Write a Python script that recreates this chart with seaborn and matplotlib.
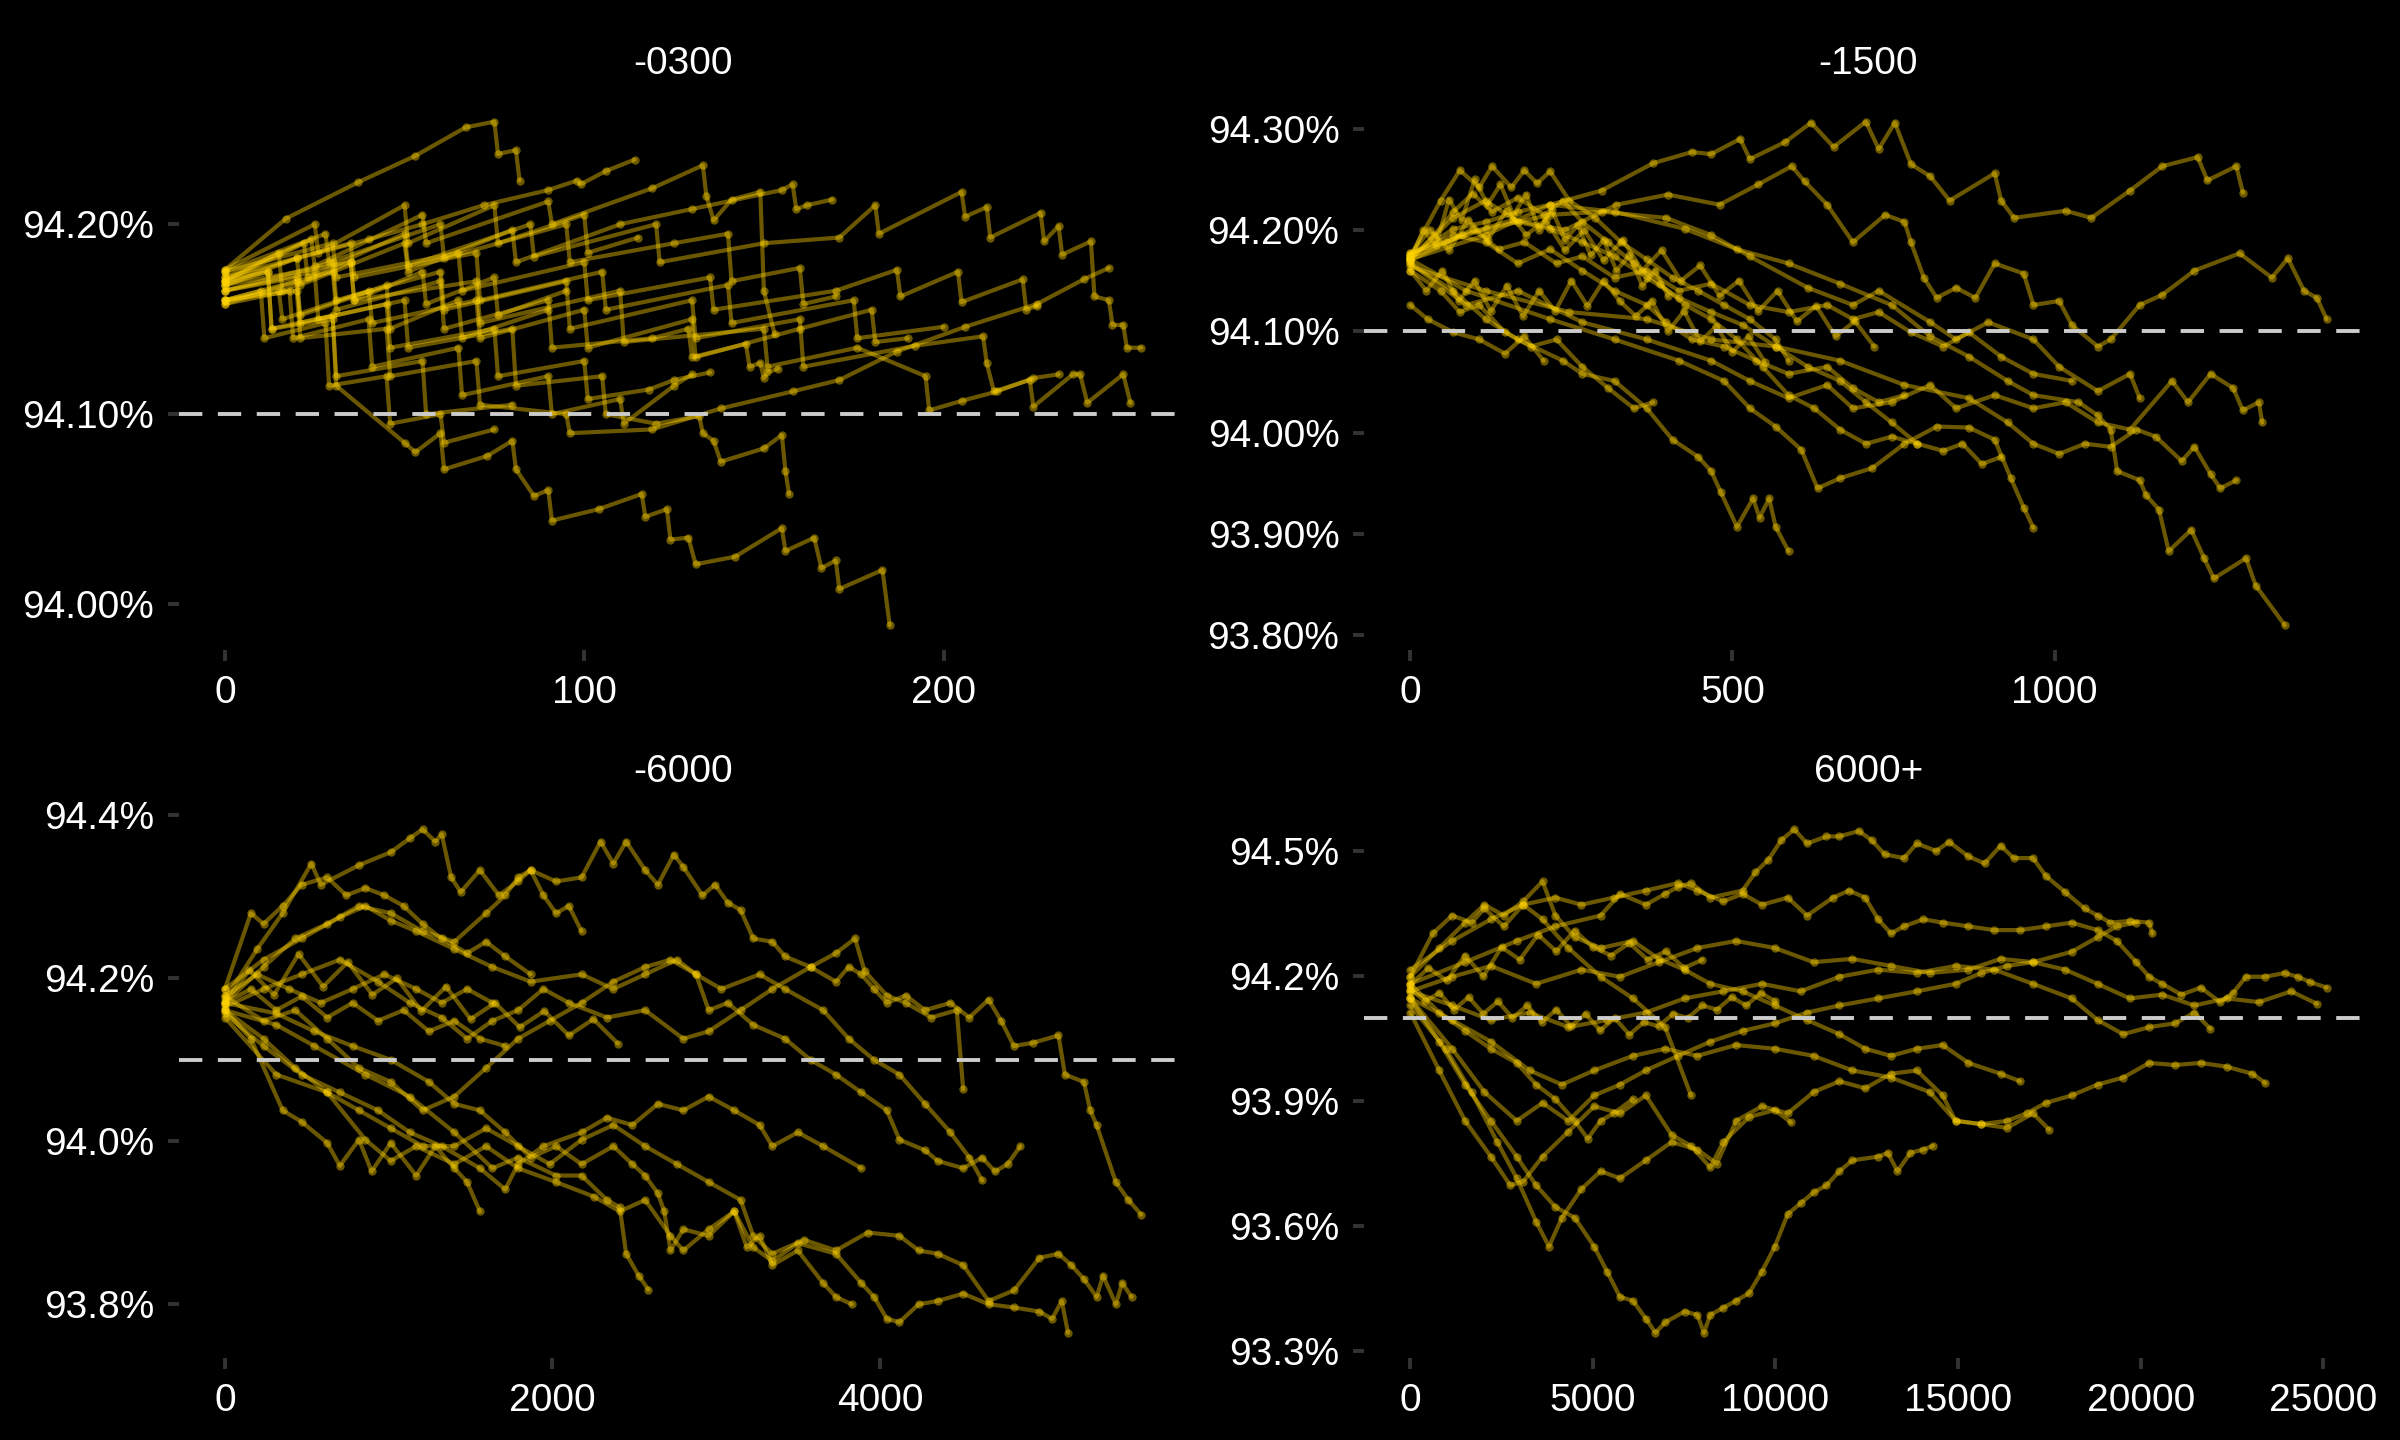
import matplotlib
matplotlib.use("Agg")
import matplotlib.pyplot as plt
import matplotlib.ticker as mticker
import seaborn as sns
import pandas as pd

# facet labels, in the order they are drawn (left to right, top to bottom)
panels = ["-0300", "-1500", "-6000", "6000+"]

# reference level drawn as the dashed line in every facet
target = 94.10

# ---- "-0300" runs (x = step, y = percent) ----
x_0300 = [
    [0, 17, 37, 53, 67, 75, 76, 81, 82],
    [0, 20, 40, 55, 72, 90, 98, 99, 106, 114],
    [0, 22, 23, 50, 51, 85, 86, 120, 121, 150, 171, 181, 182, 205, 206, 212, 213, 227, 228, 232, 233, 241, 242, 246, 247, 250, 251, 255],
    [0, 24, 25, 55, 56, 90, 91, 119, 133, 134, 136, 141, 149, 150, 153],
    [0, 20, 21, 50, 51, 80, 81, 110, 130, 155, 158, 159, 162, 169],
    [0, 20, 21, 45, 46, 70, 71, 95, 96, 119, 138, 158, 171, 187, 206, 226, 239, 246],
    [0, 30, 31, 60, 61, 95, 96, 130, 131, 160, 161, 192, 211, 212, 214, 224, 225, 236, 238, 240, 250, 252],
    [0, 35, 36, 70, 71, 110, 111, 150, 151, 176, 195, 196, 205, 215, 225, 232],
    [0, 12, 13, 30, 31, 50, 53, 60, 61, 73, 80, 81, 86, 90, 91, 104, 116, 117, 123, 124, 129, 131, 142, 155, 156, 164, 166, 170, 171, 183, 185],
    [0, 25, 26, 50, 51, 80, 81, 105, 106, 120, 132, 133, 136, 138, 150, 155, 156, 157],
    [0, 30, 31, 60, 61, 90, 91, 119, 129, 130, 145, 146, 149, 150, 151, 154],
    [0, 30, 31, 65, 66, 100, 101, 135, 136, 170, 187, 188, 204, 205, 222, 223, 226],
    [0, 20, 21, 45, 46, 75, 76, 100, 101, 118, 125, 135],
    [0, 18, 19, 40, 41, 65, 66, 90, 91, 110, 111, 125, 130],
    [0, 28, 29, 60, 61, 95, 96, 125, 140, 141, 160, 161, 170],
    [0, 15, 16, 40, 41, 70, 71, 100, 101, 130, 131, 160, 180, 181, 190],
    [0, 35, 36, 70, 71, 105, 106, 140, 141, 175, 176, 200],
    [0, 12, 13, 30, 31, 55, 56, 80],
    [0, 10, 11, 28, 29, 45, 46, 60, 61, 75],
    [0, 25, 26, 50, 51, 75, 76, 100, 101, 115],
    [0, 15, 16, 35, 36, 55, 56, 75, 76, 95],
    [0, 20, 21, 45, 46, 65, 66, 90],
]
y_0300 = [
    [94.176, 94.203, 94.222, 94.236, 94.251, 94.254, 94.237, 94.239, 94.223],
    [94.168, 94.182, 94.192, 94.200, 94.210, 94.218, 94.223, 94.221, 94.228, 94.234],
    [94.170, 94.190, 94.172, 94.195, 94.178, 94.200, 94.183, 94.200, 94.180, 94.190, 94.193, 94.210, 94.195, 94.217, 94.204, 94.209, 94.193, 94.206, 94.191, 94.199, 94.184, 94.191, 94.162, 94.160, 94.147, 94.147, 94.135, 94.135],
    [94.172, 94.192, 94.178, 94.205, 94.190, 94.212, 94.200, 94.219, 94.231, 94.215, 94.202, 94.213, 94.217, 94.165, 94.142],
    [94.170, 94.182, 94.168, 94.190, 94.175, 94.197, 94.180, 94.200, 94.208, 94.218, 94.221, 94.208, 94.210, 94.213],
    [94.160, 94.165, 94.140, 94.145, 94.120, 94.128, 94.105, 94.100, 94.090, 94.092, 94.103, 94.112, 94.118, 94.133, 94.146, 94.158, 94.171, 94.177],
    [94.165, 94.180, 94.160, 94.175, 94.155, 94.170, 94.145, 94.160, 94.140, 94.150, 94.125, 94.136, 94.141, 94.127, 94.112, 94.118, 94.104, 94.121, 94.121, 94.106, 94.121, 94.106],
    [94.168, 94.180, 94.160, 94.170, 94.148, 94.165, 94.138, 94.145, 94.125, 94.135, 94.120, 94.102, 94.107, 94.112, 94.119, 94.121],
    [94.170, 94.175, 94.145, 94.150, 94.115, 94.085, 94.080, 94.090, 94.071, 94.078, 94.086, 94.071, 94.057, 94.060, 94.044, 94.050, 94.058, 94.046, 94.050, 94.034, 94.035, 94.021, 94.025, 94.040, 94.028, 94.035, 94.019, 94.023, 94.008, 94.018, 93.989],
    [94.165, 94.175, 94.150, 94.160, 94.135, 94.145, 94.115, 94.120, 94.100, 94.095, 94.099, 94.090, 94.086, 94.075, 94.082, 94.089, 94.070, 94.058],
    [94.160, 94.175, 94.155, 94.170, 94.145, 94.160, 94.135, 94.140, 94.145, 94.130, 94.137, 94.125, 94.127, 94.119, 94.122, 94.124],
    [94.175, 94.190, 94.172, 94.185, 94.165, 94.180, 94.160, 94.172, 94.155, 94.165, 94.176, 94.162, 94.175, 94.159, 94.171, 94.155, 94.157],
    [94.165, 94.172, 94.148, 94.158, 94.135, 94.145, 94.120, 94.128, 94.108, 94.113, 94.118, 94.122],
    [94.158, 94.165, 94.140, 94.150, 94.125, 94.135, 94.110, 94.120, 94.100, 94.108, 94.095, 94.115, 94.121],
    [94.175, 94.195, 94.180, 94.200, 94.182, 94.200, 94.180, 94.190, 94.195, 94.170, 94.177, 94.158, 94.162],
    [94.160, 94.165, 94.150, 94.165, 94.148, 94.160, 94.140, 94.155, 94.135, 94.150, 94.130, 94.145, 94.155, 94.138, 94.140],
    [94.172, 94.190, 94.172, 94.185, 94.160, 94.175, 94.155, 94.168, 94.148, 94.160, 94.140, 94.146],
    [94.168, 94.175, 94.145, 94.152, 94.120, 94.128, 94.100, 94.105],
    [94.160, 94.165, 94.140, 94.148, 94.115, 94.120, 94.095, 94.100, 94.085, 94.092],
    [94.176, 94.200, 94.185, 94.210, 94.190, 94.210, 94.190, 94.205, 94.185, 94.193],
    [94.170, 94.185, 94.165, 94.180, 94.160, 94.175, 94.158, 94.172, 94.152, 94.165],
    [94.158, 94.170, 94.152, 94.168, 94.145, 94.160, 94.140, 94.155],
]

# ---- "-1500" runs ----
x_1500 = [
    [0, 67, 117, 167, 217, 297, 377, 437, 467, 512, 527, 582, 622, 657, 707, 727, 752, 777, 807, 837, 907, 917, 937, 1017, 1057, 1117, 1167, 1222, 1237, 1282, 1292],
    [0, 80, 160, 240, 320, 400, 480, 540, 592, 612, 647, 687, 737, 767, 777, 797, 817, 847, 877, 907, 952, 967, 1007, 1027, 1067, 1087, 1132, 1167, 1217, 1287, 1337, 1362, 1387, 1407, 1422],
    [0, 117, 217, 317, 427, 507, 587, 667, 747, 807, 867, 927, 967, 1037, 1067, 1087, 1097, 1132, 1142, 1162, 1177, 1212, 1232, 1247, 1297, 1312, 1357],
    [0, 87, 167, 267, 367, 467, 527, 587, 647, 687, 747, 807, 847, 907, 967, 1017, 1067, 1117, 1182, 1207, 1242, 1277, 1292, 1317, 1322],
    [0, 117, 247, 367, 467, 567, 667, 767, 867, 927, 967, 1007, 1047, 1087, 1127, 1157, 1197, 1217, 1242, 1257, 1282],
    [0, 87, 217, 317, 417, 487, 527, 567, 607, 632, 667, 717, 767, 817, 867, 907, 932, 952, 967],
    [0, 67, 117, 167, 237, 267, 317, 367, 407, 447, 467, 482, 507, 532, 542, 557, 567, 587],
    [0, 117, 217, 297, 397, 467, 527, 617, 687, 727, 807, 847, 897, 967, 1007, 1067, 1117, 1132],
    [0, 47, 77, 107, 127, 157, 177, 197, 217, 247, 287, 327, 367, 407, 447, 487, 527, 567, 587],
    [0, 37, 67, 97, 127, 167, 207, 237, 267, 307, 347, 387, 427, 467, 507, 547, 587, 627, 667, 707, 747, 787],
    [0, 47, 77, 107, 147, 187, 227, 267, 307, 347, 377],
    [0, 57, 97, 137, 177, 227, 267, 317, 367, 417, 467, 527, 587, 647, 687, 727, 777, 827, 867, 917, 967, 1027],
    [0, 27, 67, 107, 147, 177, 207],
    [0, 67, 117, 167, 217, 267, 317, 367, 417, 467, 517, 567, 617, 667, 707, 747, 787, 827, 857, 887, 917],
    [0, 67, 117, 167, 217, 267, 317, 367, 397, 437, 487, 537, 587, 647, 687, 727, 767],
    [0, 20, 40, 60, 80, 100, 120, 140, 160, 180, 200, 220, 240, 260, 280, 300, 320, 340, 360, 380, 400],
    [0, 25, 50, 75, 100, 125, 150, 175, 200, 225, 250, 275, 300, 325, 350, 375, 400, 425, 450, 475, 500, 525, 550],
    [0, 30, 60, 90, 120, 150, 180, 210, 240, 270, 300, 330, 360, 390, 420, 450, 480, 510, 540, 570, 600, 630, 660, 690, 720],
]
y_1500 = [
    [94.174, 94.201, 94.208, 94.218, 94.225, 94.239, 94.266, 94.277, 94.275, 94.290, 94.270, 94.287, 94.306, 94.282, 94.307, 94.280, 94.306, 94.265, 94.253, 94.229, 94.256, 94.229, 94.212, 94.219, 94.212, 94.239, 94.263, 94.272, 94.249, 94.263, 94.237],
    [94.170, 94.195, 94.210, 94.200, 94.225, 94.235, 94.225, 94.245, 94.263, 94.248, 94.225, 94.188, 94.215, 94.208, 94.188, 94.153, 94.133, 94.143, 94.133, 94.167, 94.157, 94.126, 94.130, 94.106, 94.085, 94.092, 94.126, 94.136, 94.160, 94.177, 94.153, 94.172, 94.140, 94.133, 94.112],
    [94.171, 94.195, 94.225, 94.218, 94.201, 94.181, 94.167, 94.147, 94.126, 94.095, 94.075, 94.051, 94.037, 94.030, 94.017, 94.003, 93.962, 93.953, 93.938, 93.924, 93.883, 93.904, 93.876, 93.856, 93.876, 93.849, 93.810],
    [94.167, 94.126, 94.140, 94.109, 94.092, 94.071, 94.051, 94.034, 94.047, 94.024, 94.030, 94.047, 94.024, 94.037, 94.024, 94.030, 94.010, 94.003, 94.051, 94.030, 94.058, 94.044, 94.022, 94.030, 94.010],
    [94.164, 94.140, 94.119, 94.112, 94.092, 94.085, 94.071, 94.047, 94.034, 94.010, 93.989, 93.979, 93.989, 93.986, 94.003, 93.996, 93.972, 93.986, 93.959, 93.945, 93.953],
    [94.171, 94.140, 94.112, 94.092, 94.071, 94.051, 94.024, 94.006, 93.983, 93.945, 93.955, 93.965, 93.989, 94.006, 94.005, 93.993, 93.955, 93.926, 93.906],
    [94.167, 94.140, 94.112, 94.092, 94.071, 94.058, 94.051, 94.024, 93.993, 93.976, 93.962, 93.941, 93.907, 93.935, 93.916, 93.935, 93.907, 93.883],
    [94.177, 94.201, 94.215, 94.218, 94.212, 94.195, 94.174, 94.143, 94.126, 94.140, 94.109, 94.092, 94.109, 94.092, 94.065, 94.041, 94.058, 94.034],
    [94.174, 94.229, 94.259, 94.242, 94.263, 94.242, 94.259, 94.246, 94.258, 94.229, 94.212, 94.188, 94.171, 94.153, 94.140, 94.126, 94.112, 94.092, 94.071],
    [94.171, 94.195, 94.218, 94.236, 94.218, 94.232, 94.215, 94.229, 94.208, 94.188, 94.167, 94.147, 94.126, 94.112, 94.092, 94.065, 94.037, 94.024, 94.003, 93.989, 93.996, 93.989],
    [94.160, 94.140, 94.119, 94.126, 94.099, 94.085, 94.092, 94.065, 94.044, 94.024, 94.030],
    [94.174, 94.188, 94.201, 94.181, 94.188, 94.167, 94.174, 94.153, 94.160, 94.140, 94.147, 94.126, 94.119, 94.126, 94.112, 94.119, 94.099, 94.085, 94.099, 94.075, 94.058, 94.051],
    [94.126, 94.112, 94.099, 94.092, 94.078, 94.095, 94.071],
    [94.171, 94.212, 94.229, 94.208, 94.201, 94.188, 94.174, 94.153, 94.133, 94.119, 94.106, 94.085, 94.065, 94.051, 94.030, 94.010, 93.989, 93.982, 93.989, 93.969, 93.976],
    [94.177, 94.195, 94.188, 94.167, 94.181, 94.160, 94.140, 94.126, 94.109, 94.092, 94.085, 94.071, 94.058, 94.065, 94.044, 94.030, 94.037],
    [94.170, 94.200, 94.185, 94.230, 94.210, 94.250, 94.225, 94.245, 94.215, 94.235, 94.200, 94.220, 94.190, 94.205, 94.175, 94.190, 94.160, 94.175, 94.145, 94.160, 94.135],
    [94.160, 94.140, 94.160, 94.130, 94.150, 94.120, 94.145, 94.115, 94.140, 94.120, 94.150, 94.125, 94.150, 94.130, 94.115, 94.130, 94.100, 94.120, 94.090, 94.105, 94.080, 94.095, 94.070],
    [94.175, 94.200, 94.180, 94.210, 94.190, 94.220, 94.195, 94.210, 94.180, 94.200, 94.170, 94.190, 94.160, 94.180, 94.150, 94.165, 94.135, 94.150, 94.120, 94.140, 94.110, 94.125, 94.095, 94.110, 94.085],
]

# ---- "-6000" runs ----
x_6000 = [
    [0, 197, 353, 528, 586, 819, 1013, 1129, 1207, 1285, 1324, 1382, 1440, 1557, 1673, 1790, 1867, 1945, 2022, 2100, 2178],
    [0, 236, 430, 625, 819, 1013, 1207, 1401, 1595, 1712, 1790, 1867, 2022, 2178, 2294, 2372, 2450, 2566, 2644, 2741, 2799, 2916, 2993, 3071, 3149, 3226, 3343, 3420, 3576, 3731, 3809, 3886, 3964, 4042, 4158, 4275, 4430, 4546, 4663, 4740, 4818, 4935, 5090, 5129, 5245, 5284, 5323, 5440, 5517, 5595],
    [0, 236, 430, 625, 819, 1013, 1207, 1401, 1595, 1790, 1984, 2178, 2372, 2566, 2760, 2954, 3149, 3226, 3343, 3537, 3731, 3925, 4119, 4236, 4352, 4508, 4663, 4818, 4974, 5090, 5168, 5245, 5323, 5362, 5440, 5479, 5536],
    [0, 314, 625, 858, 1013, 1168, 1401, 1595, 1790, 2022, 2255, 2411, 2566, 2721, 2799, 2954, 3110, 3226, 3343, 3498, 3731, 3886, 3964, 4042, 4119, 4236, 4352, 4508, 4663, 4818, 4974, 5051, 5110, 5148],
    [0, 236, 430, 625, 819, 1013, 1207, 1401, 1595, 1790, 1984, 2178, 2372, 2566, 2721, 2877, 2954, 3071, 3226, 3420, 3576, 3731, 3886, 4042, 4119, 4275, 4352, 4508, 4624, 4702, 4779, 4857],
    [0, 236, 469, 702, 935, 1129, 1324, 1479, 1634, 1790, 1945, 2100, 2333, 2566, 2799, 2954, 3149, 3343, 3576, 3731, 3848, 3906, 4042, 4158, 4313, 4469, 4508],
    [0, 314, 547, 780, 1013, 1246, 1401, 1557, 1712, 1867, 2022, 2178, 2372, 2488, 2566, 2644, 2683, 2721, 2799, 2954, 3110, 3187, 3265, 3343, 3498, 3653, 3731, 3828],
    [0, 314, 547, 858, 1129, 1401, 1634, 1790, 2022, 2178, 2333, 2411, 2450, 2527, 2586],
    [0, 159, 353, 469, 625, 702, 819, 896, 1013, 1168, 1285, 1401, 1479, 1557],
    [0, 236, 469, 702, 858, 1013, 1168, 1401, 1634, 1867, 2178, 2372, 2566, 2760, 2877, 3032, 3265, 3420, 3653, 3809, 3964, 4119, 4275, 4430, 4546, 4624],
    [0, 236, 469, 702, 935, 1129, 1324, 1557, 1712, 1790, 1945, 2178, 2333, 2488, 2644, 2799, 2954, 3110, 3265, 3343, 3498, 3653, 3886],
    [0, 159, 236, 353, 469, 625, 741, 858, 974, 1091, 1207, 1324, 1479, 1595, 1712, 1867],
    [0, 159, 314, 469, 625, 780, 935, 1091, 1246, 1401, 1557, 1712],
    [0, 197, 392, 586, 780, 974, 1168, 1324, 1479, 1634],
    [0, 150, 300, 450, 600, 750, 900, 1050, 1200, 1350, 1500, 1650, 1800, 1950, 2100, 2250, 2400],
]
y_6000 = [
    [94.174, 94.236, 94.280, 94.341, 94.315, 94.339, 94.355, 94.372, 94.383, 94.368, 94.377, 94.324, 94.306, 94.333, 94.302, 94.319, 94.333, 94.302, 94.280, 94.289, 94.258],
    [94.170, 94.214, 94.249, 94.267, 94.289, 94.280, 94.258, 94.245, 94.280, 94.302, 94.324, 94.333, 94.319, 94.324, 94.368, 94.341, 94.368, 94.333, 94.315, 94.352, 94.337, 94.302, 94.315, 94.293, 94.284, 94.249, 94.245, 94.227, 94.214, 94.196, 94.214, 94.205, 94.187, 94.170, 94.179, 94.161, 94.170, 94.152, 94.174, 94.148, 94.117, 94.121, 94.130, 94.082, 94.073, 94.038, 94.020, 93.950, 93.928, 93.910],
    [94.161, 94.126, 94.090, 94.060, 94.038, 94.016, 93.994, 93.994, 94.016, 93.994, 93.972, 94.002, 94.020, 93.994, 93.972, 93.950, 93.928, 93.884, 93.862, 93.879, 93.866, 93.888, 93.884, 93.866, 93.862, 93.848, 93.804, 93.817, 93.857, 93.862, 93.848, 93.831, 93.809, 93.835, 93.800, 93.826, 93.809],
    [94.152, 94.082, 94.060, 94.002, 93.976, 93.994, 93.972, 93.994, 93.967, 93.950, 93.932, 93.914, 93.928, 93.884, 93.866, 93.892, 93.914, 93.870, 93.853, 93.875, 93.862, 93.826, 93.809, 93.782, 93.778, 93.800, 93.804, 93.813, 93.800, 93.796, 93.791, 93.782, 93.804, 93.765],
    [94.178, 94.148, 94.161, 94.126, 94.090, 94.073, 94.038, 94.055, 94.090, 94.126, 94.148, 94.170, 94.196, 94.214, 94.223, 94.205, 94.161, 94.170, 94.143, 94.126, 94.100, 94.082, 94.060, 94.038, 94.002, 93.989, 93.976, 93.967, 93.980, 93.963, 93.972, 93.994],
    [94.165, 94.187, 94.205, 94.223, 94.196, 94.170, 94.152, 94.126, 94.148, 94.161, 94.187, 94.170, 94.152, 94.161, 94.126, 94.135, 94.161, 94.187, 94.214, 94.231, 94.249, 94.209, 94.179, 94.170, 94.152, 94.161, 94.064],
    [94.170, 94.157, 94.135, 94.117, 94.100, 94.073, 94.046, 94.038, 94.011, 93.980, 93.994, 93.972, 93.994, 93.972, 93.958, 93.936, 93.914, 93.866, 93.892, 93.884, 93.914, 93.870, 93.884, 93.848, 93.866, 93.826, 93.809, 93.800],
    [94.161, 94.143, 94.117, 94.082, 94.055, 94.011, 93.967, 93.980, 93.958, 93.958, 93.928, 93.919, 93.862, 93.835, 93.818],
    [94.161, 94.126, 94.038, 94.024, 93.998, 93.970, 94.002, 93.963, 93.998, 93.958, 93.994, 93.967, 93.950, 93.914],
    [94.187, 94.223, 94.249, 94.275, 94.289, 94.271, 94.258, 94.236, 94.214, 94.196, 94.205, 94.187, 94.205, 94.223, 94.205, 94.187, 94.205, 94.187, 94.161, 94.126, 94.100, 94.082, 94.046, 94.011, 93.980, 93.952],
    [94.157, 94.117, 94.082, 94.060, 94.038, 94.011, 93.994, 93.967, 93.941, 93.972, 93.994, 94.011, 94.029, 94.020, 94.046, 94.038, 94.055, 94.038, 94.020, 93.994, 94.011, 93.994, 93.967],
    [94.187, 94.280, 94.267, 94.289, 94.315, 94.324, 94.302, 94.311, 94.302, 94.289, 94.267, 94.249, 94.231, 94.245, 94.227, 94.205],
    [94.170, 94.187, 94.161, 94.178, 94.152, 94.170, 94.148, 94.161, 94.135, 94.148, 94.126, 94.117],
    [94.178, 94.205, 94.187, 94.170, 94.187, 94.205, 94.187, 94.170, 94.187, 94.170],
    [94.170, 94.210, 94.180, 94.230, 94.190, 94.220, 94.180, 94.200, 94.160, 94.190, 94.150, 94.170, 94.140, 94.160, 94.130, 94.150, 94.120],
]

# ---- "6000+" runs ----
x_6000p = [
    [0, 1502, 2916, 3976, 5213, 5743, 6450, 6980, 7333, 7686, 8216, 9100, 9453, 9807, 10160, 10513, 10867, 11397, 11751, 12281, 12634, 12987, 13518, 13871, 14401, 14754, 15285, 15726, 16168, 16521, 17052, 17405, 17935, 18465, 18819, 19172, 19702, 20232, 20321],
    [0, 1149, 2209, 3092, 3976, 4686, 5566, 6450, 7333, 7863, 8570, 9100, 9630, 10337, 10867, 11574, 12016, 12458, 12811, 13164, 13518, 14048, 14578, 15285, 15991, 16698, 17405, 18112, 18819, 19349, 19879, 20232, 20586, 21116, 21646, 22176, 22530, 22883, 23413, 23943, 24296, 24650, 25091],
    [0, 1149, 2209, 3446, 4686, 5743, 6803, 7863, 8923, 9983, 11044, 12104, 13164, 14225, 15285, 16168, 17052, 17935, 18819, 19702, 20586, 21470, 22353, 23237, 24120, 24826],
    [0, 1149, 2209, 3269, 4152, 5036, 6096, 6980, 7863, 8923, 9983, 11044, 12104, 13164, 14225, 14932, 15638, 16345, 16875, 17405, 18112, 18819, 19525, 20232, 20939, 21646, 22353, 23060, 23413],
    [0, 795, 1502, 2209, 2916, 3446, 3976, 4506, 5036, 5389, 5743, 6096, 6450, 6715, 6980, 7510, 7863, 8040, 8216, 8570, 8923, 9277, 9630, 9983, 10337, 10690, 11044, 11397, 11751, 12104, 12811, 13076, 13341, 13694, 14048, 14313],
    [0, 972, 1679, 2385, 2916, 3446, 3799, 4152, 4686, 5213, 5743, 6450, 7157, 7863, 8393, 8923, 9630, 10337, 11044, 11751, 12458, 13164, 13871, 14578, 14932, 15638, 16345, 17052, 17493],
    [0, 795, 1502, 2209, 2739, 3092, 3622, 4329, 5036, 5743, 6450, 7157, 7686, 8216, 8570, 9277, 9983, 10425],
    [0, 795, 1502, 2032, 2562, 3092, 3622, 3976, 4506, 5213, 6096, 6803, 7510, 8216, 9100, 9983, 10867, 11751, 12458, 13164, 13871, 14578, 15285, 16168, 16698],
    [0, 1149, 2209, 3269, 4329, 5389, 6450, 7510, 8570, 9630, 10690, 11751, 12811, 13871, 14932, 15991, 17052, 18112, 18819, 19525, 20232, 20939, 21469, 21911],
    [0, 1149, 2032, 2916, 3622, 4329, 5036, 5743, 6450, 7333, 8216, 9100, 9983, 10867, 11751, 12811, 13871, 14932, 15638, 16345, 17052, 18112, 18819, 19349, 19879],
    [0, 618, 1149, 1679, 2032, 2562, 3092, 3622, 4329, 5213, 6096, 6980, 7686],
    [0, 795, 1502, 2209, 2916, 3446, 3976, 4506, 4859, 5213, 5566, 6096],
    [0, 500, 1000, 1500, 2000, 2500, 3000, 3500, 4000, 4500, 5000, 5500, 6000, 6500, 7000, 7500, 8000],
    [0, 400, 800, 1200, 1600, 2000, 2400, 2800, 3200, 3600, 4000, 4400, 4800, 5200, 5600, 6000, 6400, 6800, 7200, 7600, 8000, 8400, 8800, 9200, 9600, 10000],
]
y_6000p = [
    [94.182, 94.234, 94.285, 94.320, 94.346, 94.398, 94.372, 94.398, 94.415, 94.424, 94.389, 94.406, 94.450, 94.480, 94.527, 94.553, 94.519, 94.536, 94.536, 94.549, 94.527, 94.493, 94.484, 94.519, 94.501, 94.523, 94.488, 94.471, 94.514, 94.484, 94.484, 94.441, 94.402, 94.363, 94.346, 94.329, 94.333, 94.329, 94.303],
    [94.216, 94.285, 94.337, 94.372, 94.389, 94.372, 94.389, 94.406, 94.424, 94.406, 94.380, 94.398, 94.372, 94.389, 94.346, 94.389, 94.406, 94.389, 94.337, 94.303, 94.320, 94.337, 94.329, 94.320, 94.311, 94.311, 94.320, 94.329, 94.311, 94.285, 94.234, 94.199, 94.182, 94.156, 94.173, 94.138, 94.160, 94.199, 94.199, 94.208, 94.199, 94.186, 94.173],
    [94.164, 94.199, 94.225, 94.182, 94.216, 94.199, 94.234, 94.268, 94.285, 94.268, 94.234, 94.242, 94.225, 94.208, 94.216, 94.242, 94.234, 94.216, 94.182, 94.147, 94.156, 94.130, 94.147, 94.138, 94.164, 94.134],
    [94.147, 94.095, 94.043, 93.974, 93.940, 93.974, 94.009, 94.026, 94.009, 94.035, 94.026, 94.009, 93.974, 93.957, 93.922, 93.853, 93.845, 93.853, 93.871, 93.896, 93.914, 93.940, 93.957, 93.992, 93.987, 93.992, 93.983, 93.966, 93.944],
    [94.147, 94.043, 93.940, 93.853, 93.767, 93.698, 93.646, 93.620, 93.551, 93.491, 93.430, 93.421, 93.378, 93.344, 93.369, 93.395, 93.387, 93.344, 93.387, 93.404, 93.421, 93.439, 93.491, 93.551, 93.629, 93.655, 93.681, 93.698, 93.732, 93.758, 93.767, 93.776, 93.732, 93.776, 93.784, 93.793],
    [94.130, 94.026, 93.922, 93.802, 93.715, 93.611, 93.551, 93.620, 93.689, 93.732, 93.715, 93.758, 93.802, 93.784, 93.750, 93.853, 93.888, 93.871, 93.922, 93.948, 93.931, 93.966, 93.974, 93.914, 93.853, 93.845, 93.836, 93.871, 93.832],
    [94.113, 93.974, 93.853, 93.767, 93.698, 93.707, 93.767, 93.827, 93.888, 93.871, 93.914, 93.819, 93.793, 93.741, 93.802, 93.862, 93.879, 93.849],
    [94.199, 94.268, 94.329, 94.372, 94.346, 94.380, 94.428, 94.346, 94.294, 94.268, 94.285, 94.242, 94.216, 94.182, 94.164, 94.130, 94.095, 94.061, 94.026, 94.009, 94.026, 94.035, 93.992, 93.966, 93.948],
    [94.164, 94.130, 94.095, 94.113, 94.078, 94.095, 94.113, 94.147, 94.164, 94.182, 94.164, 94.199, 94.216, 94.208, 94.225, 94.216, 94.182, 94.147, 94.095, 94.061, 94.078, 94.087, 94.113, 94.074],
    [94.147, 94.026, 93.922, 93.853, 93.896, 93.853, 93.914, 93.940, 93.974, 94.009, 94.043, 94.069, 94.087, 94.113, 94.130, 94.147, 94.164, 94.182, 94.208, 94.225, 94.234, 94.259, 94.294, 94.320, 94.329],
    [94.199, 94.303, 94.346, 94.329, 94.363, 94.320, 94.372, 94.337, 94.268, 94.199, 94.147, 94.078, 93.914],
    [94.182, 94.113, 94.069, 94.026, 93.992, 93.940, 93.905, 93.853, 93.810, 93.853, 93.871, 93.905],
    [94.180, 94.220, 94.190, 94.250, 94.200, 94.270, 94.240, 94.300, 94.260, 94.310, 94.270, 94.250, 94.280, 94.240, 94.260, 94.220, 94.240],
    [94.170, 94.140, 94.160, 94.120, 94.150, 94.110, 94.140, 94.100, 94.130, 94.090, 94.120, 94.080, 94.110, 94.070, 94.100, 94.060, 94.090, 94.080, 94.110, 94.100, 94.130, 94.120, 94.150, 94.130, 94.160, 94.140],
]

# tick positions for each facet
x_ticks = [[0, 100, 200], [0, 500, 1000], [0, 2000, 4000], [0, 5000, 10000, 15000, 20000, 25000]]
y_ticks = [[94.0, 94.1, 94.2], [93.8, 93.9, 94.0, 94.1, 94.2, 94.3],
           [93.8, 94.0, 94.2, 94.4], [93.3, 93.6, 93.9, 94.2, 94.5]]
y_decimals = [2, 2, 1, 1]

GOLD = "#FFD200"


def build_frame():
    rows = []
    for panel, xs, ys in zip(panels, [x_0300, x_1500, x_6000, x_6000p], [y_0300, y_1500, y_6000, y_6000p]):
        for run, (lx, ly) in enumerate(zip(xs, ys)):
            for xv, yv in zip(lx, ly):
                rows.append({"panel": panel, "run": run, "x": xv, "y": yv})
    return pd.DataFrame(rows)


def main():
    sns.set_theme(style="dark", rc={
        "figure.facecolor": "black",
        "axes.facecolor": "black",
        "axes.grid": False,
        "text.color": "white",
        "xtick.color": "#333333",
        "ytick.color": "#333333",
        "xtick.labelcolor": "white",
        "ytick.labelcolor": "white",
        "xtick.bottom": True,
        "ytick.left": True,
    })
    plt.rcParams["font.family"] = ["Liberation Sans", "DejaVu Sans"]

    df = build_frame()

    # one line per run, drawn with small dots on every point like the original
    g = sns.relplot(
        data=df, x="x", y="y", col="panel", col_order=panels, col_wrap=2,
        kind="line", units="run", estimator=None, sort=False,
        color=GOLD, alpha=0.42, linewidth=1.5,
        marker="o", markersize=3.0, markeredgewidth=0,
        facet_kws=dict(sharex=False, sharey=False),
        height=3.6, aspect=12 / 7.2,
    )
    g.figure.set_size_inches(12, 7.2)
    g.set_titles("{col_name}", color="white", size=14, pad=8)
    g.set_axis_labels("", "")
    g.despine(left=True, bottom=True)

    for i, ax in enumerate(g.axes.flat):
        ax.axhline(target, color="#CCCCCC", linewidth=1.4, linestyle=(0, (6, 4)), zorder=3)
        ax.xaxis.set_major_locator(mticker.FixedLocator(x_ticks[i]))
        ax.yaxis.set_major_locator(mticker.FixedLocator(y_ticks[i]))
        d = y_decimals[i]
        ax.yaxis.set_major_formatter(mticker.FuncFormatter(lambda v, p, d=d: f"{v:.{d}f}%"))
        ax.tick_params(axis="both", labelsize=14, length=4, width=1.4, pad=5)
        ax.tick_params(axis="x", labelbottom=True)

    g.figure.subplots_adjust(left=0.0746, right=0.9885, top=0.933, bottom=0.057,
                             wspace=0.176, hspace=0.278)
    g.figure.savefig("out.png", dpi=200, facecolor="black")


if __name__ == "__main__":
    main()
